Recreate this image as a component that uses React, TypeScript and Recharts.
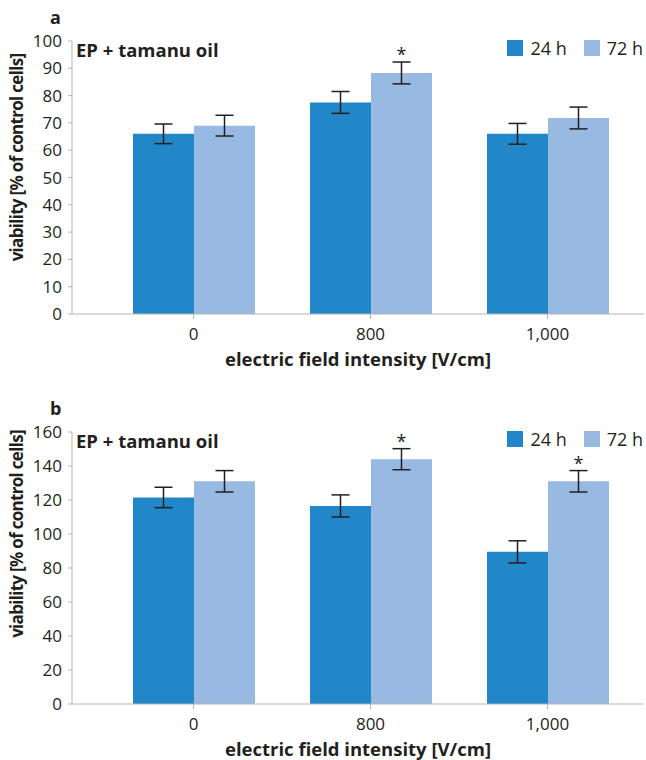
import { BarChart, Bar, XAxis, YAxis, ErrorBar, LabelList, Label } from "recharts";

const categories = ["0", "800", "1,000"];
const seriesNames = ["24 h", "72 h"];

// panel a
const a24 = [66, 77.5, 66];
const a24Err = [3.6, 4, 3.8];
const a72 = [69, 88.3, 71.8];
const a72Err = [3.8, 4, 4];
const aSig = [false, true, false];
const aTicks = [0, 10, 20, 30, 40, 50, 60, 70, 80, 90, 100];

// panel b
const b24 = [121.5, 116.5, 89.5];
const b24Err = [6, 6.5, 6.5];
const b72 = [131, 144, 131];
const b72Err = [6.3, 6.2, 6.3];
const bSig = [false, true, true];
const bTicks = [0, 20, 40, 60, 80, 100, 120, 140, 160];

const DARK = "#2187c9";
const LIGHT = "#97b9e2";
const INK = "#231f20";
const AXIS = "#b5b5b5";
const FONT = "'Open Sans', sans-serif";

interface PanelProps {
  letter: string;
  v24: number[];
  e24: number[];
  v72: number[];
  e72: number[];
  sig: boolean[];
  ticks: number[];
  top: number;
  bottom: number;
  yLabelShift: number;
}

const Panel = ({ letter, v24, e24, v72, e72, sig, ticks, top, bottom, yLabelShift }: PanelProps) => {
  const data = categories.map((c, i) => ({
    cat: c,
    h24: v24[i],
    h24err: e24[i],
    h72: v72[i],
    h72err: e72[i],
    sig: sig[i] ? "*" : "",
  }));

  // asterisk above the 72 h error bar
  const Star = (props: any) => {
    const { x, y, width, height, index } = props;
    if (!sig[index]) return null;
    const pxPerUnit = height / v72[index];
    const errTop = y - e72[index] * pxPerUnit;
    return (
      <text x={x + width / 2} y={errTop - 1} textAnchor="middle" fontSize={18} fill={INK} fontFamily={FONT}>
        *
      </text>
    );
  };

  // rotated y title, sits a bit above the middle of the axis like the original
  const YTitle = (props: any) => {
    const vb = props.viewBox;
    const cx = vb.x + 11;
    const cy = vb.y + vb.height / 2 - yLabelShift;
    return (
      <text
        x={cx}
        y={cy}
        transform={`rotate(-90, ${cx}, ${cy})`}
        textAnchor="middle"
        fontSize={17}
        fontWeight={700}
        letterSpacing={-0.7}
        fill={INK}
        fontFamily={FONT}
      >
        viability [% of control cells]
      </text>
    );
  };

  return (
    <div style={{ position: "relative", width: 646, height: 380 }}>
      <BarChart
        width={646}
        height={380}
        data={data}
        margin={{ top, right: 2, bottom, left: 12 }}
        barSize={61}
        barGap={0}
      >
        <XAxis
          dataKey="cat"
          height={56}
          padding={{ left: 33, right: 8 }}
          stroke={AXIS}
          tickSize={5}
          tickMargin={9}
          tick={{ fontSize: 17, fill: INK, fontFamily: FONT }}
        >
          <Label
            value="electric field intensity [V/cm]"
            position="insideBottom"
            offset={0}
            dy={-4}
            style={{ fontSize: 18.5, fontWeight: 700, fill: INK, fontFamily: FONT }}
          />
        </XAxis>
        <YAxis
          width={60}
          domain={[ticks[0], ticks[ticks.length - 1]]}
          ticks={ticks}
          interval={0}
          stroke={AXIS}
          tickSize={4}
          tickMargin={6}
          tick={{ fontSize: 17, fill: INK, fontFamily: FONT }}
        >
          <Label content={YTitle} />
        </YAxis>
        <Bar dataKey="h24" fill={DARK} isAnimationActive={false}>
          <ErrorBar dataKey="h24err" width={9} stroke={INK} strokeWidth={1.5} direction="y" />
        </Bar>
        <Bar dataKey="h72" fill={LIGHT} isAnimationActive={false}>
          <ErrorBar dataKey="h72err" width={9} stroke={INK} strokeWidth={1.5} direction="y" />
          <LabelList dataKey="sig" content={Star} />
        </Bar>
      </BarChart>

      <div
        style={{
          position: "absolute",
          left: 50,
          top: top - 36,
          fontFamily: FONT,
          fontWeight: 700,
          fontSize: 18,
          color: INK,
        }}
      >
        {letter}
      </div>
      <div
        style={{
          position: "absolute",
          left: 76,
          top: top - 4,
          fontFamily: FONT,
          fontWeight: 700,
          fontSize: 18.5,
          color: INK,
        }}
      >
        EP + tamanu oil
      </div>
      <div
        style={{
          position: "absolute",
          right: 3,
          top: top - 5,
          display: "flex",
          alignItems: "center",
          fontFamily: FONT,
          fontSize: 18,
          color: INK,
        }}
      >
        {seriesNames.map((n, i) => (
          <div key={n} style={{ display: "flex", alignItems: "center", marginLeft: i ? 17 : 0 }}>
            <span style={{ width: 16, height: 16, background: i ? LIGHT : DARK, marginRight: 7 }} />
            <span>{n}</span>
          </div>
        ))}
      </div>
    </div>
  );
};

export default function App() {
  return (
    <div style={{ position: "absolute", left: 0, top: 0, width: 646, height: 760, background: "#fff" }}>
      <Panel letter="a" v24={a24} e24={a24Err} v72={a72} e72={a72Err} sig={aSig} ticks={aTicks} top={41} bottom={10} yLabelShift={20} />
      <Panel letter="b" v24={b24} e24={b24Err} v72={b72} e72={b72Err} sig={bSig} ticks={bTicks} top={52} bottom={0} yLabelShift={34} />
    </div>
  );
}
